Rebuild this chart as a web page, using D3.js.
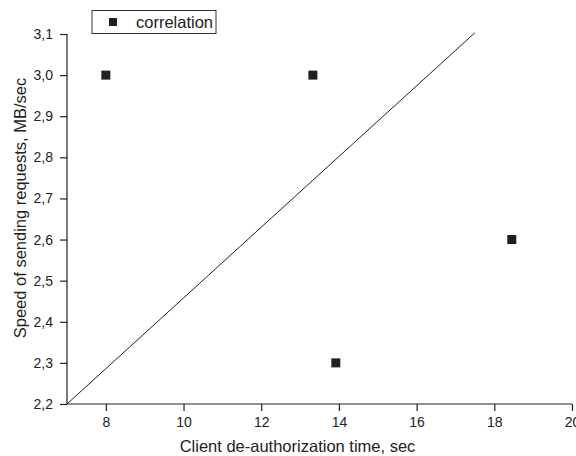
<!DOCTYPE html>
<html>
<head>
<meta charset="utf-8">
<script src="https://cdn.jsdelivr.net/npm/d3@7"></script>
<style>
  body { margin: 0; background: #fff; }
  svg { display: block; font-family: Arial, "Liberation Sans", sans-serif; }
</style>
</head>
<body>
<script>
// data
const pointX = [8, 13.33, 13.92, 18.45];
const pointY = [3.0, 3.0, 2.3, 2.6];
const lineX = [7, 17.5];
const lineY = [2.2, 3.103];
const xTicks = [8, 10, 12, 14, 16, 18, 20];
const yTicks = [2.2, 2.3, 2.4, 2.5, 2.6, 2.7, 2.8, 2.9, 3.0, 3.1];
const legendLabel = "correlation";

const svgWidth = 576, svgHeight = 456;

const svg = d3.select('body').append('svg')
  .attr('width', svgWidth)
  .attr('height', svgHeight);

const xScale = d3.scaleLinear().domain([7, 20]).range([67, 572]);
const yScale = d3.scaleLinear().domain([2.2, 3.1]).range([404, 34]);

const fmtY = d => d3.format('.1f')(d).replace('.', ',');

// minor ticks
const xMinor = d3.range(7, 20.01, 1).filter(v => v % 2 === 1);
const yMinor = d3.range(2.25, 3.1, 0.1);

const gX = svg.append('g').attr('transform', 'translate(0,' + yScale(2.2) + ')');
gX.call(d3.axisBottom(xScale).tickValues(xMinor).tickSize(4).tickFormat(''));
gX.call(d3.axisBottom(xScale).tickValues(xTicks).tickSize(7).tickPadding(6).tickFormat(d3.format('d')));
gX.selectAll('path.domain').attr('d', 'M' + xScale(7) + ',0H' + xScale(20));

const gY = svg.append('g').attr('transform', 'translate(' + xScale(7) + ',0)');
gY.call(d3.axisLeft(yScale).tickValues(yMinor).tickSize(4).tickFormat(''));
gY.call(d3.axisLeft(yScale).tickValues(yTicks).tickSize(7).tickPadding(7).tickFormat(fmtY));
gY.selectAll('path.domain').attr('d', 'M0,' + yScale(2.2) + 'V' + yScale(3.1));

svg.selectAll('.tick line').attr('stroke', '#222').attr('stroke-width', 1.2);
svg.selectAll('path.domain').attr('stroke', '#222').attr('stroke-width', 1.2);
svg.selectAll('.tick text').attr('font-size', 14).attr('fill', '#222')
  .attr('font-family', 'Arial, "Liberation Sans", sans-serif');

// axis titles
svg.append('text')
  .attr('x', 297.5).attr('y', 452)
  .attr('text-anchor', 'middle')
  .attr('font-size', 16.5).attr('fill', '#222')
  .text('Client de-authorization time, sec');

svg.append('text')
  .attr('transform', 'translate(26,208) rotate(-90)')
  .attr('text-anchor', 'middle')
  .attr('font-size', 16.5).attr('fill', '#222')
  .text('Speed of sending requests, MB/sec');

// fit line
svg.append('path')
  .datum(lineX.map((x, i) => [x, lineY[i]]))
  .attr('fill', 'none')
  .attr('stroke', '#222')
  .attr('stroke-width', 1)
  .attr('d', d3.line().x(d => xScale(d[0])).y(d => yScale(d[1])));

// points
const pts = pointX.map((x, i) => ({x: x, y: pointY[i]}));
svg.selectAll('rect.pt').data(pts).enter().append('rect')
  .attr('class', 'pt')
  .attr('x', d => xScale(d.x) - 4.5)
  .attr('y', d => yScale(d.y) - 4.5)
  .attr('width', 9).attr('height', 9)
  .attr('fill', '#231f20');

// legend
const legend = svg.append('g');
legend.append('rect')
  .attr('x', 92).attr('y', 10.5).attr('width', 124).attr('height', 23)
  .attr('fill', '#fff').attr('stroke', '#333').attr('stroke-width', 1);
legend.append('rect')
  .attr('x', 109).attr('y', 18).attr('width', 8).attr('height', 8)
  .attr('fill', '#231f20');
legend.append('text')
  .attr('x', 136).attr('y', 28)
  .attr('font-size', 16.5).attr('fill', '#222')
  .text(legendLabel);
</script>
</body>
</html>
